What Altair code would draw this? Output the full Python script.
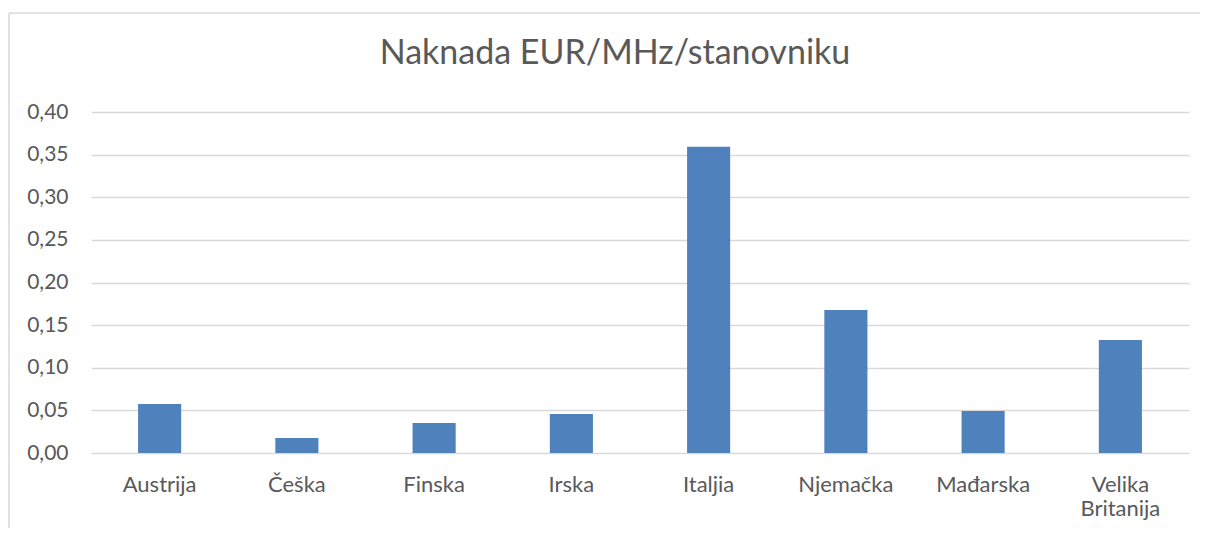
import altair as alt
import pandas as pd

countries = ["Austrija", "Češka", "Finska", "Irska", "Italjia", "Njemačka", "Mađarska", "Velika Britanija"]
values = [0.0575, 0.0176, 0.0352, 0.0457, 0.3593, 0.1677, 0.0493, 0.1326]
y_ticks = [0.0, 0.05, 0.10, 0.15, 0.20, 0.25, 0.30, 0.35, 0.40]
title_text = "Naknada EUR/MHz/stanovniku"

df = pd.DataFrame({"country": countries, "value": values})

TEXT = "#595959"
GRID = "#D9D9D9"
BAR = "#4F81BD"
FONT = "Lato"

one = pd.DataFrame({"f": [0]})
frame_top = alt.Chart(one).mark_rule(color=GRID, strokeWidth=1.5).encode(
    x=alt.value(-82), x2=alt.value(1300), y=alt.value(-99),
)
frame_left = alt.Chart(one).mark_rule(color=GRID, strokeWidth=1.5).encode(
    x=alt.value(-82), y=alt.value(-99), y2=alt.value(600),
)

bars = alt.Chart(df).mark_bar(color=BAR).encode(
    x=alt.X(
        "country:N", sort=countries,
        scale=alt.Scale(paddingInner=0.686, paddingOuter=0.343),
        axis=alt.Axis(
            title=None, labelAngle=0, ticks=False, domain=False, grid=False,
            labelFont=FONT, labelFontSize=22, labelColor=TEXT, labelPadding=21,
            labelLineHeight=24,
            labelExpr="datum.label == 'Velika Britanija' ? ['Velika', 'Britanija'] : datum.label",
        ),
    ),
    y=alt.Y(
        "value:Q",
        scale=alt.Scale(domain=[0, 0.40], nice=False),
        axis=alt.Axis(
            title=None, values=y_ticks, ticks=False, domain=False,
            grid=True, gridColor=GRID, gridWidth=1.5,
            labelFont=FONT, labelFontSize=21, labelColor=TEXT, labelPadding=23,
            labelExpr="replace(format(datum.value, '.2f'), '.', ',')",
        ),
    ),
)

chart = alt.layer(frame_top, frame_left, bars).properties(
    width=1098, height=341,
    title=alt.TitleParams(
        text=title_text, font=FONT, fontSize=34, fontWeight="normal",
        color=TEXT, anchor="middle", dx=-25, dy=86, offset=0,
        baseline="alphabetic",
    ),
    autosize=alt.AutoSizeParams(type="none"),
    padding={"left": 83, "top": 104, "right": 11, "bottom": 75},
).configure_view(stroke=None).configure_axis(gridCap="butt")

chart.save("out.html", embed_options={"renderer": "svg", "actions": False})
